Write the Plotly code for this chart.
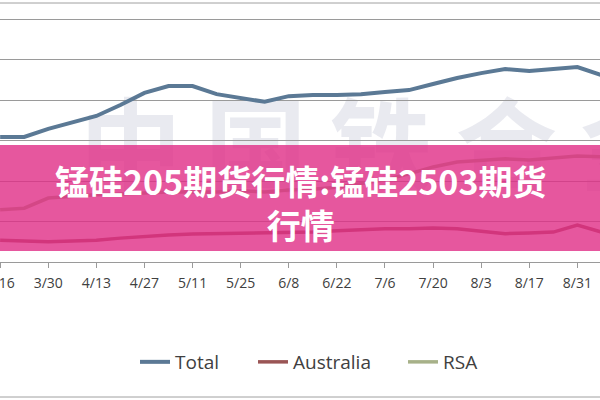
import plotly.graph_objects as go

# ---- data (y units arbitrary, gridlines every 100) ----
dates = ["2015-03-16", "2015-03-23", "2015-03-30", "2015-04-06", "2015-04-13",
         "2015-04-20", "2015-04-27", "2015-05-04", "2015-05-11", "2015-05-18",
         "2015-05-25", "2015-06-01", "2015-06-08", "2015-06-15", "2015-06-22",
         "2015-06-29", "2015-07-06", "2015-07-13", "2015-07-20", "2015-07-27",
         "2015-08-03", "2015-08-10", "2015-08-17", "2015-08-24", "2015-08-31",
         "2015-09-07"]
total = [309, 309, 329, 346, 361, 388, 418, 435, 435, 415, 405, 396, 410,
         413, 413, 415, 420, 425, 440, 455, 467, 477, 472, 477, 482, 462]
australia = [54, 52, 50, 52, 54, 59, 64, 67, 69, 70, 70, 71, 72, 74, 77,
             80, 82, 82, 84, 82, 77, 70, 72, 74, 91, 74]
rsa = [129, 133, 158, 163, 166, 168, 171, 173, 173, 173, 176, 173, 178,
       180, 185, 193, 203, 218, 235, 247, 252, 255, 252, 257, 262, 260]

title_text = "锰硅205期货行情:锰硅2503期货<br>行情"
watermark = "中\u00a0国\u00a0铁\u00a0合\u00a0金"

# ---- layout geometry ----
W, H = 600, 400
PLOT_BOTTOM = 262            # pixel row of the x axis
def py(p):                   # pixel row -> paper y
    return (PLOT_BOTTOM - p) / PLOT_BOTTOM

fig = go.Figure()
series = [("Total", total, "#5b7995", 4, "legend"),
          ("Australia", australia, "#9a5555", 3.5, "legend2"),
          ("RSA", rsa, "#a7b189", 3.5, "legend3")]
for name, vals, col, w, lg in series:
    fig.add_trace(go.Scatter(x=dates, y=vals, name=name, mode="lines",
                             line=dict(color=col, width=w), legend=lg,
                             hoverinfo="skip"))

legend_common = dict(orientation="h", yanchor="middle", y=py(362),
                     xanchor="left", bgcolor="rgba(0,0,0,0)",
                     font=dict(family="Open Sans", size=19, color="#404040"))

fig.update_layout(
    width=W, height=H,
    margin=dict(l=0, r=0, t=0, b=H - PLOT_BOTTOM, autoexpand=False),
    paper_bgcolor="white", plot_bgcolor="white",
    showlegend=True,
    legend=dict(x=135 / W, **legend_common),
    legend2=dict(x=253 / W, **legend_common),
    legend3=dict(x=403 / W, **legend_common),
    xaxis=dict(type="date",
               range=["2015-03-15 23:00", "2015-09-06 14:00"],
               tick0="2015-03-16", dtick=14 * 86400000,
               tickformat="%-m/%-d",
               showgrid=False, showline=True, linecolor="#9a9a9a", linewidth=1,
               ticks="outside", ticklen=5, tickcolor="#9a9a9a",
               ticklabelstandoff=3, ticklabeloverflow="allow",
               tickfont=dict(family="Open Sans", size=14, color="#404040")),
    yaxis=dict(range=[0, PLOT_BOTTOM / 40.45 * 100], dtick=100,
               showgrid=True, gridcolor="#9a9a9a", gridwidth=1,
               zeroline=False, showticklabels=False, showline=False),
    shapes=[
        # watermark (under grid and traces)
        dict(type="rect", xref="paper", yref="paper",
             x0=(381 - 150) / W, x1=(381 + 150) / W, y0=py(205), y1=py(105),
             line=dict(width=0), fillcolor="rgba(0,0,0,0)", layer="below",
             label=dict(text=watermark, textposition="middle center",
                        font=dict(family="Noto Sans CJK SC", size=102,
                                  weight="bold",
                                  color="rgba(150,155,182,0.21)"))),
        # chart frame top/bottom
        dict(type="line", xref="paper", yref="paper", x0=0, x1=1,
             y0=py(3), y1=py(3), line=dict(color="#a0a0a0", width=1)),
        dict(type="line", xref="paper", yref="paper", x0=0, x1=1,
             y0=py(397), y1=py(397), line=dict(color="#a0a0a0", width=1)),
        # pink banner
        dict(type="rect", xref="paper", yref="paper", x0=0, x1=1,
             y0=py(251), y1=py(145), layer="above", line=dict(width=0),
             fillcolor="rgba(224,45,134,0.80)"),
    ],
    annotations=[
        dict(text=title_text, xref="paper", yref="paper", x=0.5, y=py(202),
             xanchor="center", yanchor="middle", showarrow=False,
             font=dict(family="Noto Sans CJK SC", size=34, color="white",
                       weight="bold")),
    ],
)

fig.write_html("out.html",
               config={"displayModeBar": False, "staticPlot": True},
               post_script="document.body.style.margin='0';"
                           "document.body.style.overflow='hidden';")
